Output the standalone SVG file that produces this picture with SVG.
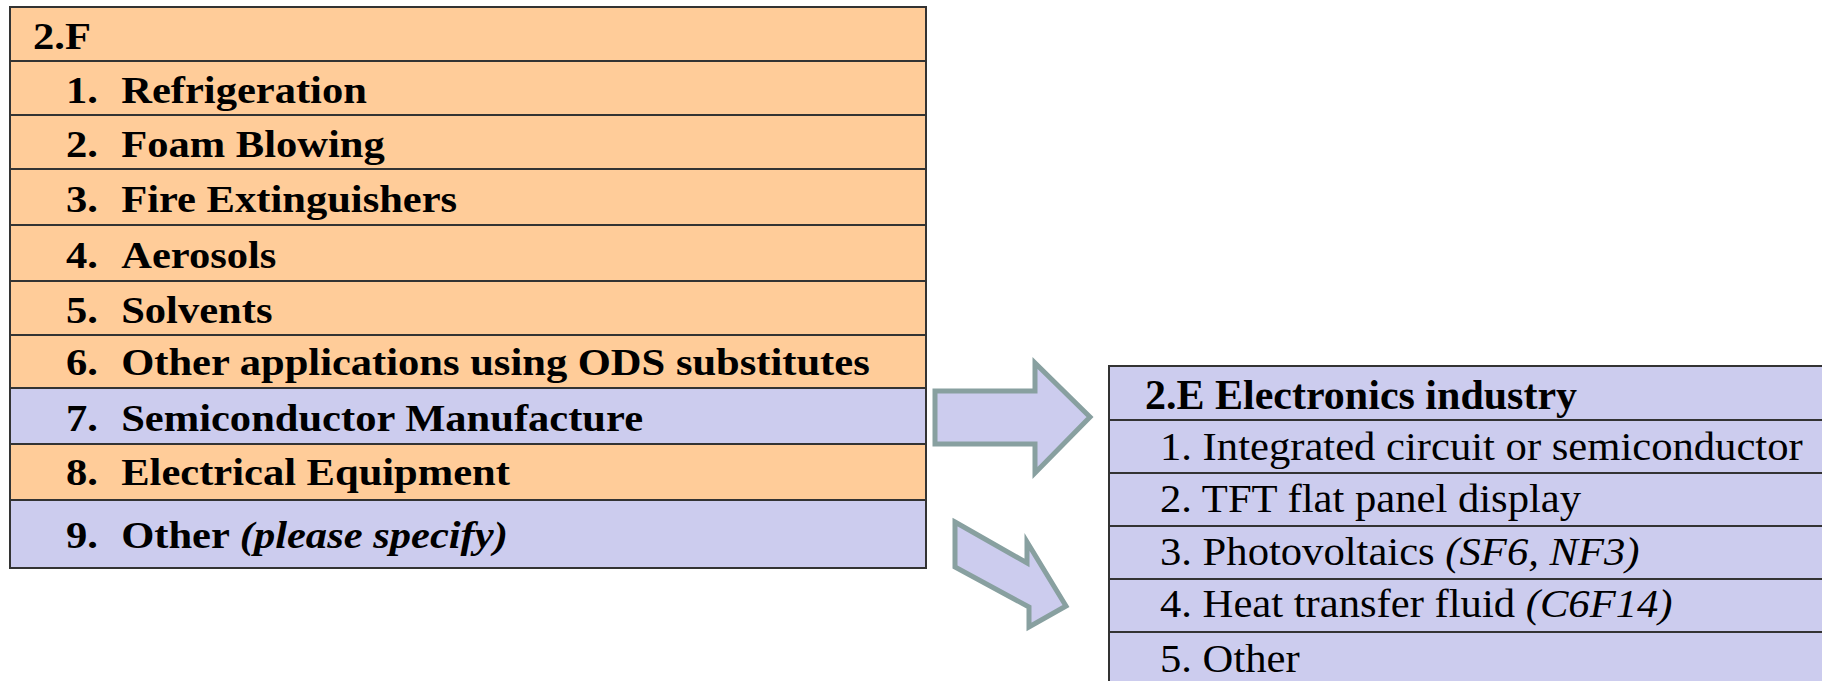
<svg xmlns="http://www.w3.org/2000/svg" width="1822" height="681" viewBox="0 0 1822 681">
<style>
.or{fill:#ffcc99;stroke:#333;stroke-width:2}
.lv{fill:#ccccee;stroke:#333;stroke-width:2}
.lb{font-family:"Liberation Serif","Times New Roman",serif;font-weight:bold;font-size:37px;fill:#000}
.rb{font-family:"Liberation Serif","Times New Roman",serif;font-weight:bold;font-size:42px;fill:#000}
.rr{font-family:"Liberation Serif","Times New Roman",serif;font-size:41px;fill:#000}
.it{font-style:italic}
.arr{fill:#ccccee;stroke:#88a0a0;stroke-width:5;stroke-linejoin:miter}
</style>
<rect width="1822" height="681" fill="#ffffff"/>
<g id="table-2F">
  <g id="f-head"><rect class="or" x="10" y="7" width="916" height="54"/><text class="lb" transform="translate(33,49) scale(1.15,1)">2.F</text></g>
  <g id="f-1"><rect class="or" x="10" y="61" width="916" height="54"/><text class="lb" transform="translate(66,103) scale(1.15,1)">1.<tspan x="48">Refrigeration</tspan></text></g>
  <g id="f-2"><rect class="or" x="10" y="115" width="916" height="54"/><text class="lb" transform="translate(66,157) scale(1.15,1)">2.<tspan x="48">Foam Blowing</tspan></text></g>
  <g id="f-3"><rect class="or" x="10" y="169" width="916" height="56"/><text class="lb" transform="translate(66,212) scale(1.15,1)">3.<tspan x="48">Fire Extinguishers</tspan></text></g>
  <g id="f-4"><rect class="or" x="10" y="225" width="916" height="56"/><text class="lb" transform="translate(66,268) scale(1.15,1)">4.<tspan x="48">Aerosols</tspan></text></g>
  <g id="f-5"><rect class="or" x="10" y="281" width="916" height="54"/><text class="lb" transform="translate(66,323) scale(1.15,1)">5.<tspan x="48">Solvents</tspan></text></g>
  <g id="f-6"><rect class="or" x="10" y="335" width="916" height="53"/><text class="lb" transform="translate(66,375) scale(1.15,1)">6.<tspan x="48">Other applications using ODS substitutes</tspan></text></g>
  <g id="f-7"><rect class="lv" x="10" y="388" width="916" height="56"/><text class="lb" transform="translate(66,431) scale(1.15,1)">7.<tspan x="48">Semiconductor Manufacture</tspan></text></g>
  <g id="f-8"><rect class="or" x="10" y="444" width="916" height="56"/><text class="lb" transform="translate(66,485) scale(1.15,1)">8.<tspan x="48">Electrical Equipment</tspan></text></g>
  <g id="f-9"><rect class="lv" x="10" y="500" width="916" height="68"/><text class="lb" transform="translate(66,548) scale(1.15,1)">9.<tspan x="48">Other </tspan><tspan class="it">(please specify)</tspan></text></g>
</g>
<g id="connectors">
  <polygon class="arr" points="935,391 1035,391 1035,363 1090,417 1035,473 1035,444 935,444"/>
  <polygon class="arr" points="955,522 1027,563 1027,542 1066,606 1029,627 1029,607 955,567"/>
</g>
<g id="table-2E">
  <g id="e-head"><rect class="lv" x="1109" y="366" width="730" height="54"/><text class="rb" x="1145" y="409">2.E Electronics industry</text></g>
  <g id="e-1"><rect class="lv" x="1109" y="420" width="730" height="53"/><text class="rr" transform="translate(1160,460) scale(1.04,1)">1. Integrated circuit or semiconductor</text></g>
  <g id="e-2"><rect class="lv" x="1109" y="473" width="730" height="53"/><text class="rr" transform="translate(1160,512) scale(1.04,1)">2. TFT flat panel display</text></g>
  <g id="e-3"><rect class="lv" x="1109" y="526" width="730" height="53"/><text class="rr" transform="translate(1160,565) scale(1.04,1)">3. Photovoltaics <tspan class="it">(SF6, NF3)</tspan></text></g>
  <g id="e-4"><rect class="lv" x="1109" y="579" width="730" height="53"/><text class="rr" transform="translate(1160,617) scale(1.04,1)">4. Heat transfer fluid <tspan class="it">(C6F14)</tspan></text></g>
  <g id="e-5"><rect class="lv" x="1109" y="632" width="730" height="60"/><text class="rr" transform="translate(1160,672) scale(1.04,1)">5. Other</text></g>
</g>
</svg>
